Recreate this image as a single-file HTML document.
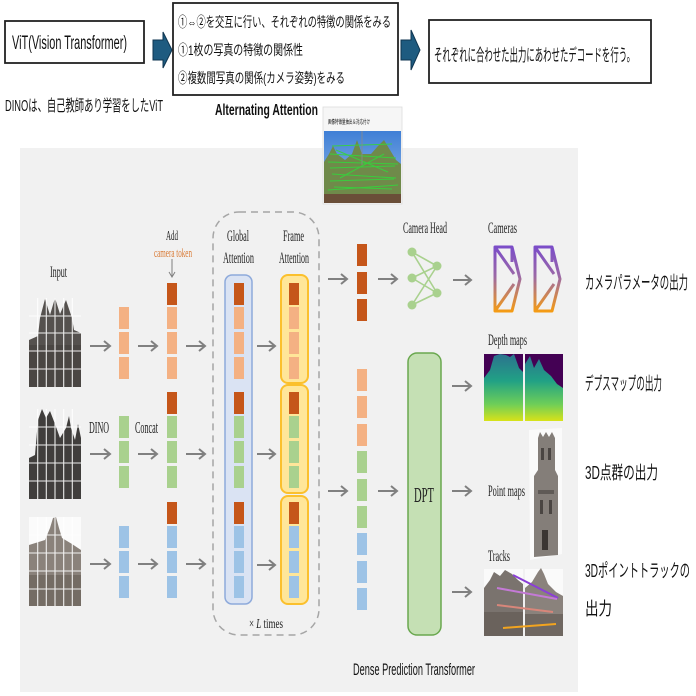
<!DOCTYPE html>
<html><head><meta charset="utf-8"><style>
html,body{margin:0;padding:0;background:#fff;}
svg{display:block;}
.jp{font-family:"Liberation Sans","Noto Sans CJK JP",sans-serif;fill:#111;}
.sf{font-family:"Liberation Serif",serif;fill:#222;}
</style></head><body>
<svg width="696" height="696" viewBox="0 0 696 696" xmlns="http://www.w3.org/2000/svg">
<defs>
<linearGradient id="cam" gradientUnits="userSpaceOnUse" x1="0" y1="246" x2="0" y2="312">
<stop offset="0" stop-color="#7a4cc9"/><stop offset="0.45" stop-color="#9a68a8"/><stop offset="1" stop-color="#f69c12"/>
</linearGradient>
<linearGradient id="dep" gradientUnits="userSpaceOnUse" x1="0" y1="354" x2="0" y2="421">
<stop offset="0" stop-color="#2c728e"/><stop offset="0.4" stop-color="#21a185"/><stop offset="0.75" stop-color="#6ece58"/><stop offset="1" stop-color="#d8e219"/>
</linearGradient>
<linearGradient id="sky" x1="0" y1="0" x2="0" y2="1">
<stop offset="0" stop-color="#3f7fd6"/><stop offset="1" stop-color="#9cc0ea"/>
</linearGradient>
</defs>

<!-- ===== top section ===== -->
<rect x="5" y="21" width="139" height="42" fill="#fff" stroke="#222" stroke-width="1.8"/>
<text class="jp" x="12" y="49" font-size="19" textLength="115" lengthAdjust="spacingAndGlyphs">ViT(Vision Transformer)</text>
<polygon points="153,40 163,40 163,32 172,50 163,68 163,60 153,60" fill="#1e5b80" stroke="#0f3550" stroke-width="1"/>

<rect x="173" y="3" width="225" height="92" fill="#fff" stroke="#222" stroke-width="1.8"/>
<text class="jp" x="178" y="27" font-size="14" textLength="213" lengthAdjust="spacingAndGlyphs">①⇔②を交互に行い、それぞれの特徴の関係をみる</text>
<text class="jp" x="178" y="55" font-size="14" textLength="125" lengthAdjust="spacingAndGlyphs">①1枚の写真の特徴の関係性</text>
<text class="jp" x="178" y="83" font-size="14" textLength="167" lengthAdjust="spacingAndGlyphs">②複数間写真の関係(カメラ姿勢)をみる</text>

<text class="jp" x="5" y="111" font-size="16" textLength="158" lengthAdjust="spacingAndGlyphs">DINOは、自己教師あり学習をしたViT</text>
<text class="jp" x="215" y="115" font-size="16" font-weight="bold" textLength="103" lengthAdjust="spacingAndGlyphs">Alternating Attention</text>

<polygon points="401,40 411,40 411,30 420,50 411,70 411,60 401,60" fill="#1e5b80" stroke="#0f3550" stroke-width="1"/>
<rect x="429" y="20" width="222" height="63" fill="#fff" stroke="#222" stroke-width="1.8"/>
<text class="jp" x="434" y="61" font-size="17" textLength="201" lengthAdjust="spacingAndGlyphs">それぞれに合わせた出力にあわせたデコードを行う。</text>

<!-- ===== panel ===== -->
<rect x="20" y="148" width="558" height="544" fill="#f1f1f1"/>

<!-- thumbnail -->
<rect x="323" y="107" width="79" height="97" fill="#f6f6f6" stroke="#dcdcdc" stroke-width="0.8"/>
<text class="jp" x="328" y="124" font-size="6" fill="#555" textLength="42" lengthAdjust="spacingAndGlyphs">画像特徴量抽出＆対応付け</text>
<rect x="324" y="131" width="77" height="72" fill="url(#sky)"/>
<path d="M324,203 L324,162 L329,154 L333,146 L337,154 L345,160 L352,154 L357,140 L362,154 L371,154 L378,146 L384,140 L390,150 L396,160 L401,164 L401,203 Z" fill="#6f8a4a"/>
<rect x="324" y="194" width="77" height="9" fill="#6a4e38"/>
<g stroke="#35d43c" stroke-width="1" opacity="0.9">
<line x1="332" y1="146" x2="392" y2="144"/><line x1="330" y1="154" x2="396" y2="158"/>
<line x1="328" y1="162" x2="398" y2="164"/><line x1="330" y1="168" x2="395" y2="166"/>
<line x1="332" y1="174" x2="396" y2="178"/><line x1="330" y1="181" x2="394" y2="179"/>
<line x1="334" y1="187" x2="392" y2="189"/><line x1="336" y1="150" x2="388" y2="172"/>
<line x1="340" y1="178" x2="384" y2="154"/><line x1="328" y1="190" x2="398" y2="185"/>
</g>
<line x1="362" y1="131" x2="362" y2="165" stroke="#8a8a8a" stroke-width="0.8"/>

<!-- input images -->
<g>
<path d="M29,340 L38,336 L40,318 L45,299 L50,315 L55,298 L60,314 L66,300 L72,318 L74,330 L81,333 L81,387 L29,387 Z" fill="#55514e"/>
<rect x="29" y="345" width="52" height="42" fill="#3f3b38" opacity="0.5"/>
<g stroke="#fff" stroke-width="1.1" opacity="0.9">
<line x1="37.7" y1="298" x2="37.7" y2="387"/><line x1="46.3" y1="298" x2="46.3" y2="387"/><line x1="55" y1="298" x2="55" y2="387"/><line x1="63.7" y1="298" x2="63.7" y2="387"/><line x1="72.3" y1="298" x2="72.3" y2="387"/>
<line x1="29" y1="316" x2="81" y2="316"/><line x1="29" y1="333" x2="81" y2="333"/><line x1="29" y1="351" x2="81" y2="351"/><line x1="29" y1="369" x2="81" y2="369"/>
</g>
</g>
<g>
<path d="M29,458 L35,455 L38,420 L42,409 L46,418 L50,411 L55,424 L60,438 L66,428 L69,416 L71,428 L75,440 L78,424 L81,438 L81,499 L29,499 Z" fill="#403e3c"/>
<g stroke="#fff" stroke-width="1.1" opacity="0.9">
<line x1="37.7" y1="409" x2="37.7" y2="499"/><line x1="46.3" y1="409" x2="46.3" y2="499"/><line x1="55" y1="409" x2="55" y2="499"/><line x1="63.7" y1="409" x2="63.7" y2="499"/><line x1="72.3" y1="409" x2="72.3" y2="499"/>
<line x1="29" y1="427" x2="81" y2="427"/><line x1="29" y1="445" x2="81" y2="445"/><line x1="29" y1="463" x2="81" y2="463"/><line x1="29" y1="481" x2="81" y2="481"/>
</g>
</g>
<g>
<rect x="29" y="517" width="52" height="89" fill="#fbfbfb"/>
<path d="M29,545 L45,540 L50,528 L53,518 L56,517 L59,528 L62,538 L72,544 L81,550 L81,606 L29,606 Z" fill="#8a827b"/>
<rect x="29" y="575" width="52" height="31" fill="#6b625b" opacity="0.7"/>
<g stroke="#fff" stroke-width="1.1" opacity="0.9">
<line x1="37.7" y1="517" x2="37.7" y2="606"/><line x1="46.3" y1="517" x2="46.3" y2="606"/><line x1="55" y1="517" x2="55" y2="606"/><line x1="63.7" y1="517" x2="63.7" y2="606"/><line x1="72.3" y1="517" x2="72.3" y2="606"/>
<line x1="29" y1="535" x2="81" y2="535"/><line x1="29" y1="553" x2="81" y2="553"/><line x1="29" y1="571" x2="81" y2="571"/><line x1="29" y1="589" x2="81" y2="589"/>
</g>
</g>

<!-- labels left -->
<text class="sf" x="50" y="277" font-size="16" textLength="17" lengthAdjust="spacingAndGlyphs">Input</text>
<text class="sf" x="166" y="240" font-size="14" textLength="12" lengthAdjust="spacingAndGlyphs">Add</text>
<text class="sf" x="154" y="257" font-size="13" style="fill:#d97a35" textLength="38" lengthAdjust="spacingAndGlyphs">camera token</text>
<text class="sf" x="89" y="433" font-size="17" textLength="20" lengthAdjust="spacingAndGlyphs">DINO</text>
<text class="sf" x="135" y="433" font-size="17" textLength="23" lengthAdjust="spacingAndGlyphs">Concat</text>
<line x1="172" y1="259" x2="172" y2="277" stroke="#808080" stroke-width="1"/>
<polyline points="169,272 172,277 175,272" fill="none" stroke="#808080" stroke-width="1"/>

<!-- dashed loop box -->
<rect x="213" y="212" width="106" height="423" rx="26" fill="none" stroke="#a6a6a6" stroke-width="1.5" stroke-dasharray="7 5"/>
<text class="sf" x="227" y="241" font-size="16" textLength="22" lengthAdjust="spacingAndGlyphs">Global</text>
<text class="sf" x="223" y="263" font-size="16" textLength="31" lengthAdjust="spacingAndGlyphs">Attention</text>
<text class="sf" x="283" y="241" font-size="16" textLength="21" lengthAdjust="spacingAndGlyphs">Frame</text>
<text class="sf" x="279" y="263" font-size="16" textLength="30" lengthAdjust="spacingAndGlyphs">Attention</text>
<text class="sf" x="249" y="628" font-size="14" textLength="34" lengthAdjust="spacingAndGlyphs">× <tspan font-style="italic">L</tspan> times</text>

<rect x="225" y="275" width="27" height="329" rx="7" fill="#dae3f3" stroke="#8eaadb" stroke-width="1.5"/>
<rect x="281" y="275" width="27" height="108" rx="7" fill="#ffe699" stroke="#fbc02d" stroke-width="2"/>
<rect x="281" y="385" width="27" height="108" rx="7" fill="#ffe699" stroke="#fbc02d" stroke-width="2"/>
<rect x="281" y="496" width="27" height="108" rx="7" fill="#ffe699" stroke="#fbc02d" stroke-width="2"/>

<!-- tokens -->
<g>
<rect x="119" y="307" width="10" height="22" fill="#f4b183"/><rect x="119" y="332" width="10" height="22" fill="#f4b183"/><rect x="119" y="357" width="10" height="22" fill="#f4b183"/>
<rect x="119" y="416" width="10" height="22" fill="#a9d18e"/><rect x="119" y="441" width="10" height="22" fill="#a9d18e"/><rect x="119" y="466" width="10" height="22" fill="#a9d18e"/>
<rect x="119" y="526" width="10" height="22" fill="#9dc3e6"/><rect x="119" y="551" width="10" height="22" fill="#9dc3e6"/><rect x="119" y="576" width="10" height="22" fill="#9dc3e6"/>
</g>
<g id="colA">
<rect x="167" y="283" width="10" height="22" fill="#c5561a"/>
<rect x="167" y="307" width="10" height="22" fill="#f4b183"/><rect x="167" y="332" width="10" height="22" fill="#f4b183"/><rect x="167" y="357" width="10" height="22" fill="#f4b183"/>
<rect x="167" y="392" width="10" height="22" fill="#c5561a"/>
<rect x="167" y="416" width="10" height="22" fill="#a9d18e"/><rect x="167" y="441" width="10" height="22" fill="#a9d18e"/><rect x="167" y="466" width="10" height="22" fill="#a9d18e"/>
<rect x="167" y="502" width="10" height="22" fill="#c5561a"/>
<rect x="167" y="526" width="10" height="22" fill="#9dc3e6"/><rect x="167" y="551" width="10" height="22" fill="#9dc3e6"/><rect x="167" y="576" width="10" height="22" fill="#9dc3e6"/>
</g>
<use href="#colA" x="67"/>
<use href="#colA" x="122"/>

<!-- camera tokens -->
<rect x="357" y="244" width="10" height="22" fill="#c5561a"/>
<rect x="357" y="272" width="10" height="22" fill="#c5561a"/>
<rect x="357" y="299" width="10" height="22" fill="#c5561a"/>
<!-- dense tokens -->
<rect x="357" y="369" width="10" height="22" fill="#f4b183"/><rect x="357" y="396" width="10" height="22" fill="#f4b183"/><rect x="357" y="424" width="10" height="22" fill="#f4b183"/>
<rect x="357" y="451" width="10" height="22" fill="#a9d18e"/><rect x="357" y="479" width="10" height="22" fill="#a9d18e"/><rect x="357" y="506" width="10" height="22" fill="#a9d18e"/>
<rect x="357" y="533" width="10" height="22" fill="#9dc3e6"/><rect x="357" y="561" width="10" height="22" fill="#9dc3e6"/><rect x="357" y="588" width="10" height="22" fill="#9dc3e6"/>

<!-- gray arrows -->
<g stroke="#808080" stroke-width="2" fill="none">
<path d="M90,346H110M104,341L110,346L104,351"/>
<path d="M138,346H157M151,341L157,346L151,351"/>
<path d="M186,346H205M199,341L205,346L199,351"/>
<path d="M257,346H275M269,341L275,346L269,351"/>
<path d="M90,454H110M104,449L110,454L104,459"/>
<path d="M138,454H157M151,449L157,454L151,459"/>
<path d="M186,454H205M199,449L205,454L199,459"/>
<path d="M257,454H275M269,449L275,454L269,459"/>
<path d="M90,564H110M104,559L110,564L104,569"/>
<path d="M138,564H157M151,559L157,564L151,569"/>
<path d="M186,564H205M199,559L205,564L199,569"/>
<path d="M257,565H275M269,560L275,565L269,570"/>
<path d="M328,279H347M341,274L347,279L341,284"/>
<path d="M378,279H397M391,274L397,279L391,284"/>
<path d="M453,280H471M465,275L471,280L465,285"/>
<path d="M328,491H347M341,486L347,491L341,496"/>
<path d="M378,491H397M391,486L397,491L391,496"/>
<path d="M452,491H471M465,486L471,491L465,496"/>
<path d="M452,386H471M465,381L471,386L465,391"/>
<path d="M452,592H471M465,587L471,592L465,597"/>
</g>

<!-- camera head -->
<text class="sf" x="403" y="233" font-size="16" textLength="44" lengthAdjust="spacingAndGlyphs">Camera Head</text>
<g stroke="#a9d18e" stroke-width="1.6">
<line x1="412" y1="252" x2="437" y2="266"/><line x1="412" y1="252" x2="437" y2="293"/>
<line x1="412" y1="278" x2="437" y2="266"/><line x1="412" y1="278" x2="437" y2="293"/>
<line x1="412" y1="305" x2="437" y2="266"/><line x1="412" y1="305" x2="437" y2="293"/>
</g>
<g fill="#a9d18e">
<circle cx="412" cy="252" r="4.5"/><circle cx="412" cy="278" r="4.5"/><circle cx="412" cy="305" r="4.5"/>
<circle cx="437" cy="266" r="4.5"/><circle cx="437" cy="293" r="4.5"/>
</g>

<!-- cameras -->
<text class="sf" x="488" y="233" font-size="16" textLength="29" lengthAdjust="spacingAndGlyphs">Cameras</text>
<g id="camic" fill="none" stroke="url(#cam)" stroke-width="3" stroke-linejoin="round">
<path d="M495,247 L512,247 L520,279 L512,311 L495,311 Z"/>
<path d="M495,247 L514,274 M495,311 L514,284 M512,247 L512,262"/>
</g>
<use href="#camic" x="40"/>

<!-- DPT -->
<rect x="408" y="353" width="33" height="282" rx="9" fill="#c5e0b4" stroke="#6aa84f" stroke-width="1.5"/>
<text class="sf" x="414" y="502" font-size="21" textLength="20" lengthAdjust="spacingAndGlyphs">DPT</text>

<!-- depth maps -->
<text class="sf" x="488" y="345" font-size="16" textLength="39" lengthAdjust="spacingAndGlyphs">Depth maps</text>
<rect x="484" y="354" width="39" height="67" fill="#440154"/>
<path d="M484,421 L484,378 L490,370 L494,356 L500,354 L506,355 L510,357 L514,354 L519,368 L523,372 L523,421 Z" fill="url(#dep)"/>
<rect x="525" y="354" width="38" height="67" fill="#440154"/>
<path d="M525,421 L525,364 L530,356 L534,368 L539,359 L544,370 L551,376 L557,384 L563,388 L563,421 Z" fill="url(#dep)"/>

<!-- point maps -->
<text class="sf" x="488" y="496" font-size="16" textLength="37" lengthAdjust="spacingAndGlyphs">Point maps</text>
<polygon points="529,430 562,428 562,554 530,560" fill="#fafafa"/>
<path d="M538,438 L540,432 L543,437 L546,432 L549,437 L552,432 L555,438 L555,470 L558,476 L558,555 L534,557 L534,476 L538,470 Z" fill="#847e79"/>
<rect x="541" y="448" width="3" height="12" fill="#4a4542"/><rect x="548" y="448" width="3" height="12" fill="#4a4542"/>
<rect x="538" y="490" width="16" height="4" fill="#5f5a56"/>
<rect x="540" y="500" width="3" height="14" fill="#4a4542"/><rect x="549" y="500" width="3" height="14" fill="#4a4542"/>
<rect x="542" y="530" width="6" height="20" fill="#3a3532"/>

<!-- tracks -->
<text class="sf" x="488" y="561" font-size="16" textLength="22" lengthAdjust="spacingAndGlyphs">Tracks</text>
<rect x="484" y="569" width="39" height="67" fill="#fafafa"/>
<path d="M484,636 L484,588 L490,580 L494,572 L500,576 L505,570 L512,574 L518,580 L523,584 L523,636 Z" fill="#7a736e"/>
<rect x="484" y="612" width="39" height="24" fill="#6a625c"/>
<rect x="525" y="569" width="38" height="67" fill="#fafafa"/>
<path d="M525,636 L525,588 L532,582 L538,572 L541,568 L544,574 L548,584 L556,592 L563,596 L563,636 Z" fill="#8a827c"/>
<rect x="525" y="614" width="38" height="22" fill="#6f6761"/>
<g stroke-width="2">
<line x1="513" y1="575" x2="558" y2="598" stroke="#8b3fd6"/>
<line x1="497" y1="588" x2="557" y2="599" stroke="#c47ad6"/>
<line x1="497" y1="605" x2="553" y2="612" stroke="#d8867a"/>
<line x1="503" y1="628" x2="556" y2="624" stroke="#f2a41f"/>
</g>

<text class="jp" x="353" y="675" font-size="17" textLength="122" lengthAdjust="spacingAndGlyphs">Dense Prediction Transformer</text>

<!-- right labels -->
<text class="jp" x="585" y="289" font-size="18" textLength="103" lengthAdjust="spacingAndGlyphs">カメラパラメータの出力</text>
<text class="jp" x="585" y="390" font-size="18" textLength="77" lengthAdjust="spacingAndGlyphs">デプスマップの出力</text>
<text class="jp" x="585" y="479" font-size="18" textLength="73" lengthAdjust="spacingAndGlyphs">3D点群の出力</text>
<text class="jp" x="585" y="577" font-size="18" textLength="105" lengthAdjust="spacingAndGlyphs">3Dポイントトラックの</text>
<text class="jp" x="585" y="615" font-size="18" textLength="27" lengthAdjust="spacingAndGlyphs">出力</text>
</svg>
</body></html>
